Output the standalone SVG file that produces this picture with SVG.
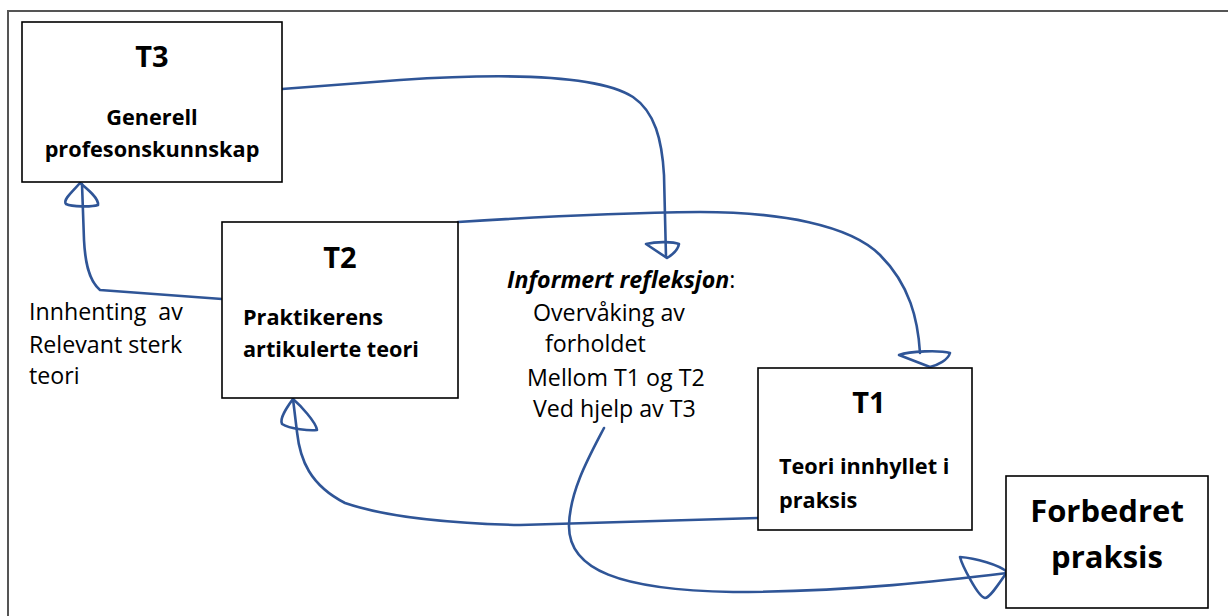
<svg xmlns="http://www.w3.org/2000/svg" width="1228" height="616" viewBox="0 0 1228 616">
<style>
.box{fill:#fff;stroke:#000;stroke-width:1.6}
.frame{fill:none;stroke:#555;stroke-width:2}
.t{font-family:"Open Sans",Lato,sans-serif;fill:#000}
.b{font-weight:bold;font-size:21.7px}
.big{font-size:29px;font-weight:bold}
.huge{font-size:31px;font-weight:bold}
.reg{font-size:23.2px}
.c{fill:none;stroke:#2f5597;stroke-width:2.6;stroke-linecap:round;stroke-linejoin:round}
</style>
<rect width="1228" height="616" fill="#fff"/>
<rect class="frame" x="8" y="11" width="1240" height="620"/>
<g id="connectors">
<path class="c" d="M282,89 L400,80 C520,72 600,76 633,97 C655,112 662,140 664,175 L666,257"/>
<path class="c" d="M667,258 L646,244 C655,242 672,241 679,244 C678,250 672,255 667,258 Z"/>
<path class="c" d="M458,222 C550,216 620,213 700,212 C780,212 850,225 880,255 C910,285 918,320 920,353"/>
<path class="c" d="M930,367 L899,355 C910,351 940,350 950,353 C948,360 938,365 930,367 Z"/>
<path class="c" d="M222,299 L100,290 C88,280 85,260 84,240 L82,184"/>
<path class="c" d="M80,183 C74,190 62,200 66,204 C72,207 92,207 98,205 C99,198 86,188 80,183 Z"/>
<path class="c" d="M758,518 L520,525 C430,523 380,515 345,503 C310,485 300,460 297,432 L293,399"/>
<path class="c" d="M293,399 C288,406 279,418 282,424 C290,429 310,431 317,430 C316,422 300,405 293,399 Z"/>
<path class="c" d="M604,428 C590,455 570,490 569,525 C568,570 620,590 733,592 C850,592 950,580 1007,573"/>
<path class="c" d="M960,557 C975,558 1000,565 1007,572 C1000,582 990,598 985,598 C978,597 962,565 960,557 Z"/>
</g>
<g id="T3">
<rect class="box" x="22" y="22" width="260" height="160"/>
<text class="t big" x="152" y="67" text-anchor="middle">T3</text>
<text class="t b" x="152" y="125" text-anchor="middle">Generell</text>
<text class="t b" x="152" y="157" text-anchor="middle">profesonskunnskap</text>
</g>
<g id="T2">
<rect class="box" x="222" y="222" width="236" height="176"/>
<text class="t big" x="340" y="268" text-anchor="middle">T2</text>
<text class="t b" x="243" y="325">Praktikerens</text>
<text class="t b" x="243" y="357">artikulerte teori</text>
</g>
<g id="T1">
<rect class="box" x="758" y="368" width="214" height="162"/>
<text class="t big" x="869" y="413" text-anchor="middle">T1</text>
<text class="t b" x="779" y="474">Teori innhyllet i</text>
<text class="t b" x="779" y="508">praksis</text>
</g>
<g id="forbedret">
<rect class="box" x="1006" y="476" width="202" height="132"/>
<text class="t huge" x="1107" y="522" text-anchor="middle">Forbedret</text>
<text class="t huge" x="1107" y="568" text-anchor="middle">praksis</text>
</g>
<g id="innhenting">
<text class="t reg" x="29" y="320" style="white-space:pre">Innhenting  av</text>
<text class="t reg" x="29" y="353">Relevant sterk</text>
<text class="t reg" x="29" y="384">teori</text>
</g>
<g id="refleksjon">
<text class="t reg" x="507" y="288"><tspan font-weight="bold" font-style="italic">Informert refleksjon</tspan>:</text>
<text class="t reg" x="533" y="321">Overvåking av</text>
<text class="t reg" x="545" y="352">forholdet</text>
<text class="t reg" x="527" y="386">Mellom T1 og T2</text>
<text class="t reg" x="533" y="417">Ved hjelp av T3</text>
</g>
</svg>
